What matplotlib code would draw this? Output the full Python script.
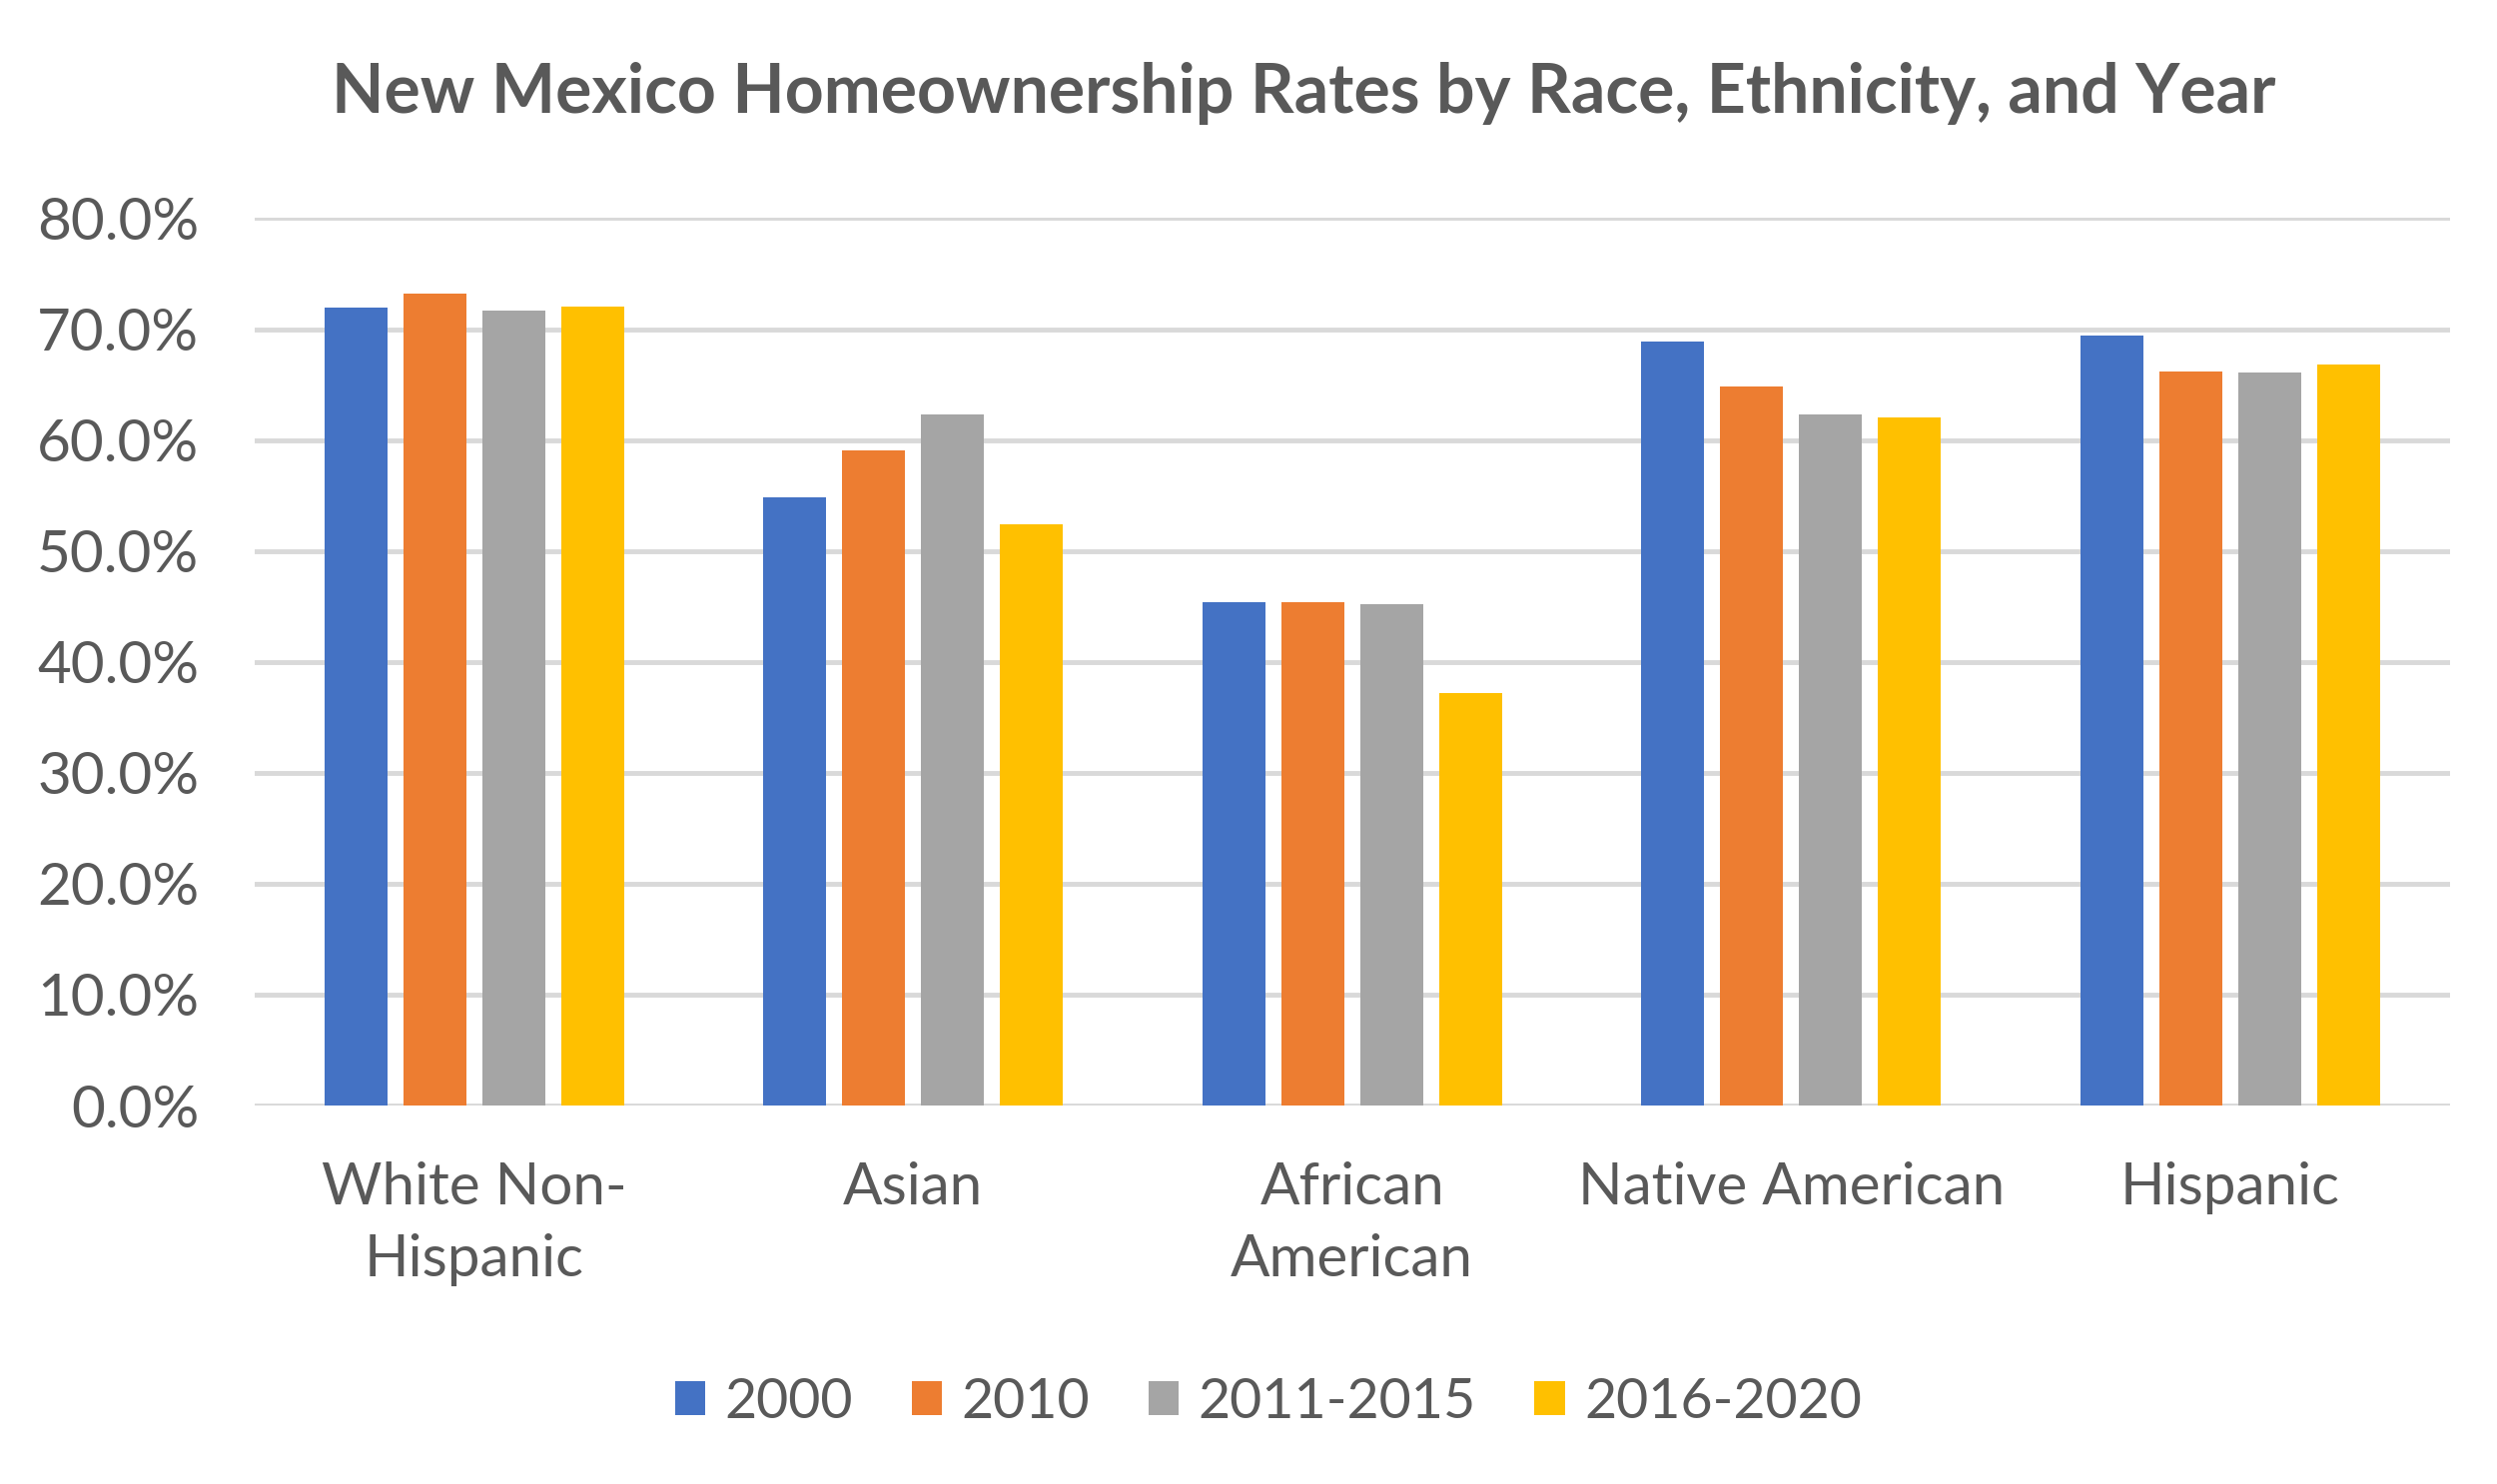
import matplotlib.pyplot as plt
import numpy as np
from matplotlib.ticker import PercentFormatter

# data
groups = ["White Non-\nHispanic", "Asian", "African\nAmerican", "Native American", "Hispanic"]
years = ["2000", "2010", "2011-2015", "2016-2020"]
v2000 = [71.9, 54.8, 45.4, 68.9, 69.4]
v2010 = [73.2, 59.1, 45.4, 64.8, 66.2]
v2011_2015 = [71.7, 62.3, 45.2, 62.3, 66.1]
v2016_2020 = [72.0, 52.4, 37.2, 62.0, 66.8]
colors = ["#4472C4", "#ED7D31", "#A5A5A5", "#FFC000"]

plt.rcParams["font.family"] = ["Lato", "DejaVu Sans"]
txt = "#595959"

fig = plt.figure(figsize=(25, 14.86), dpi=100)
ax = fig.add_axes([0.102, 0.255, 0.879, 0.598])

x = np.arange(len(groups))
w = 0.143
step = 0.18
series = [v2000, v2010, v2011_2015, v2016_2020]
for i, vals in enumerate(series):
    ax.bar(x + (i - 1.5) * step, vals, width=w, color=colors[i], label=years[i], zorder=3)

ax.set_ylim(0, 80)
ax.set_xlim(-0.5, len(groups) - 0.5)
ax.set_yticks(np.arange(0, 81, 10))
ax.yaxis.set_major_formatter(PercentFormatter(decimals=1))
ax.grid(axis="y", color="#D9D9D9", linewidth=3.5, zorder=0)
for s in ax.spines.values():
    s.set_visible(False)
ax.tick_params(axis="both", length=0, labelsize=42, colors=txt)
ax.tick_params(axis="y", pad=40)
ax.tick_params(axis="x", pad=40)
ax.set_xticks(x)
ax.set_xticklabels(groups, linespacing=1.45)

fig.text(0.522, 0.937, "New Mexico Homeownership Rates by Race, Ethnicity, and Year",
         ha="center", va="center", fontsize=49, fontweight="bold", color=txt)

fig.legend(loc="center", bbox_to_anchor=(0.508, 0.055), ncol=4, frameon=False,
           fontsize=40, labelcolor=txt, handlelength=0.55, handleheight=0.55,
           handletextpad=0.35, columnspacing=1.05)

fig.savefig("out.png", dpi=100, facecolor="white")
